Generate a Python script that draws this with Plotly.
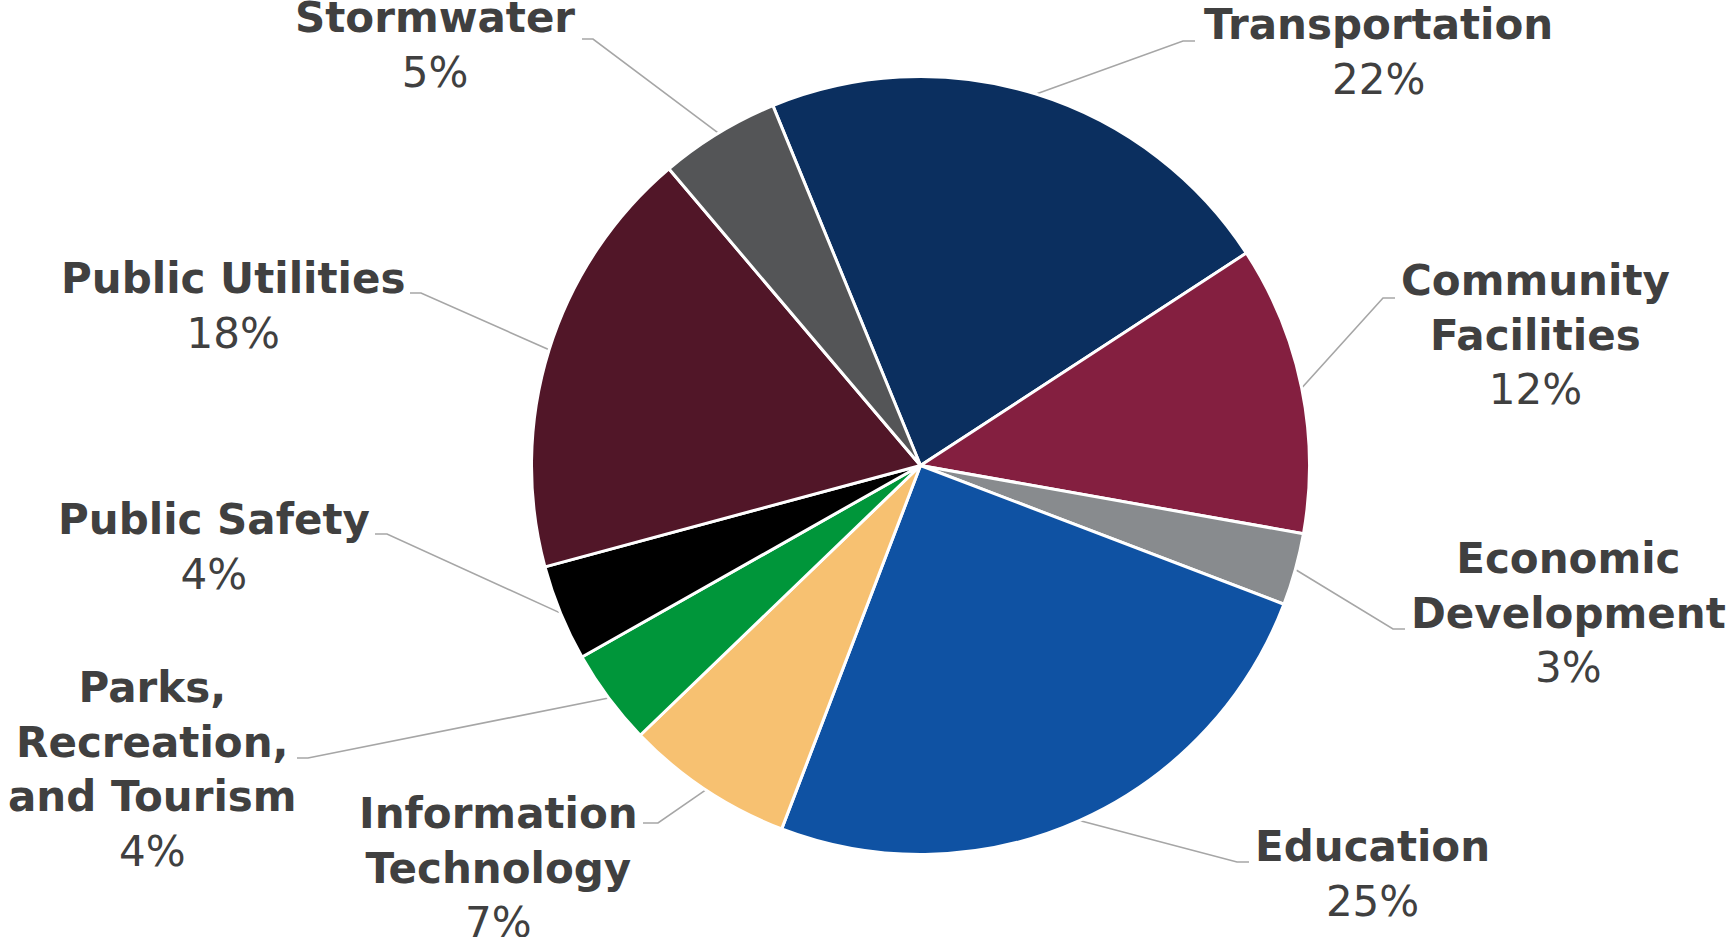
import math
import plotly.graph_objects as go

# Capital budget share by program area
categories = [
    "Transportation",
    "Community Facilities",
    "Economic Development",
    "Education",
    "Information Technology",
    "Parks, Recreation, and Tourism",
    "Public Safety",
    "Public Utilities",
    "Stormwater",
]
shares = [22, 12, 3, 25, 7, 4, 4, 18, 5]
label_lines = [
    ["Transportation"],
    ["Community", "Facilities"],
    ["Economic", "Development"],
    ["Education"],
    ["Information", "Technology"],
    ["Parks,", "Recreation,", "and Tourism"],
    ["Public Safety"],
    ["Public Utilities"],
    ["Stormwater"],
]
colors = ["#0B2F5F", "#841F40", "#888B8E", "#0F52A3", "#F7C171",
          "#00963A", "#000000", "#511628", "#545557"]

W, H = 1727, 937
CX, CY, R = 920.5, 465.5, 389.0      # pie centre / radius in pixels
ROTATION = -22.3                      # start angle of first slice (deg, clockwise from 12 o'clock)

# label block centres and leader-line elbows (pixels, y downward)
label_pos = [(1378, 52), (1535, 335), (1568, 613), (1372, 874), (498, 868),
             (152, 769), (214, 547), (233, 306), (435, 45)]
elbows = [((1195, 41), (1183, 41)), ((1395, 298), (1383, 298)),
          ((1405, 629), (1393, 629)), ((1249, 862), (1237, 862)),
          ((643, 823), (658, 823)), ((297, 758), (308, 758)),
          ((375, 534), (387, 534)), ((410, 293), (421, 293)),
          ((582, 39), (593, 39))]

TEXT_COLOR = "#404040"
FONT = "DejaVu Sans, Verdana, sans-serif"

fig = go.Figure()

fig.add_trace(go.Pie(
    labels=categories,
    values=shares,
    sort=False,
    direction="clockwise",
    rotation=ROTATION,
    marker=dict(colors=colors, line=dict(color="white", width=3)),
    textinfo="none",
    hoverinfo="label+percent",
    showlegend=False,
    domain=dict(
        x=[(CX - R) / W, (CX + R) / W],
        y=[(H - CY - R) / H, (H - CY + R) / H],
    ),
))

# leader lines from each label to the middle of its slice's arc
total = sum(shares)
lx, ly = [], []
cum = 0.0
for v, ((x0, y0), (x1, y1)) in zip(shares, elbows):
    mid = math.radians(ROTATION + (cum + v / 2.0) / total * 360.0)
    cum += v
    ax = CX + R * math.sin(mid)
    ay = CY - R * math.cos(mid)
    lx += [x0, x1, ax, None]
    ly += [y0, y1, ay, None]

fig.add_trace(go.Scatter(
    x=lx, y=ly, mode="lines",
    line=dict(color="#A6A6A6", width=1.6),
    hoverinfo="skip", showlegend=False,
))

for lines, v, (px, py) in zip(label_lines, shares, label_pos):
    text = "<br>".join(f"<b>{s}</b>" for s in lines) + f"<br>{v}%"
    fig.add_annotation(
        x=px, y=py, xref="x", yref="y",
        text=text, showarrow=False,
        xanchor="center", yanchor="middle", align="center",
        font=dict(family=FONT, size=42, color=TEXT_COLOR),
    )

fig.update_layout(
    width=W, height=H,
    margin=dict(l=0, r=0, t=0, b=0),
    paper_bgcolor="white", plot_bgcolor="white",
    xaxis=dict(range=[0, W], visible=False, fixedrange=True, domain=[0, 1]),
    yaxis=dict(range=[H, 0], visible=False, fixedrange=True, domain=[0, 1]),
)

fig.write_html("out.html")
